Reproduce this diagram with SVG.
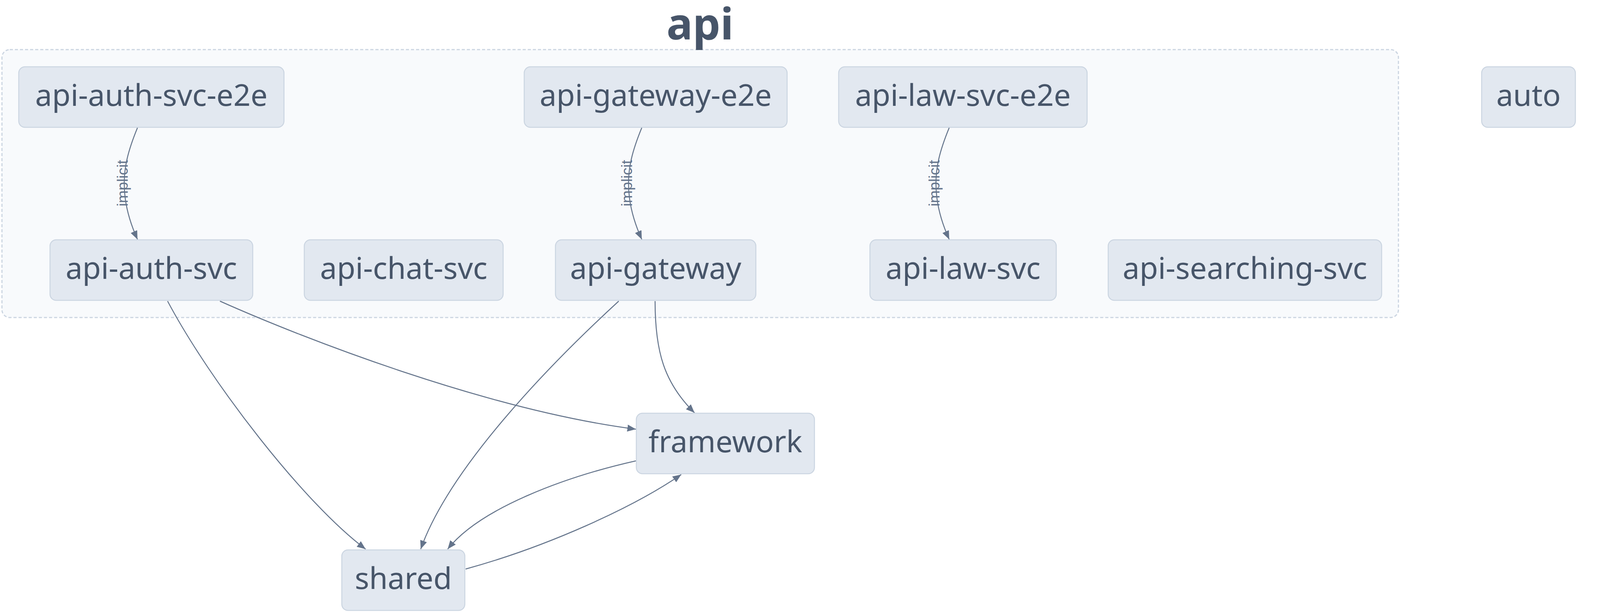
<svg xmlns="http://www.w3.org/2000/svg" width="6052" height="1567" viewBox="0 0 6052 1567">
<defs>
<style>
.cluster{fill:#f8fafc;stroke:#cbd5e1;stroke-width:3;stroke-dasharray:8 5}
.ctitle{font-family:"Noto Sans","Open Sans",sans-serif;font-weight:bold;font-size:112px;fill:#475569;text-anchor:middle}
.node rect{fill:#e2e8f0;stroke:#cbd5e1;stroke-width:2.5}
.node text{font-family:"Noto Sans","Open Sans",sans-serif;font-size:77px;fill:#475569;text-anchor:middle}
.edge{fill:none;stroke:#64748b;stroke-width:2.5}
.elabel{font-family:"Liberation Sans",Arial,sans-serif;font-size:39px;fill:#64748b;text-anchor:middle}
</style>
<marker id="arrow" viewBox="0 0 22 18" refX="22" refY="9" markerWidth="22" markerHeight="18" markerUnits="userSpaceOnUse" orient="auto">
<path d="M0,0 L22,9 L0,18 Z" fill="#64748b"/>
</marker>
</defs>
<rect width="6052" height="1567" fill="#ffffff"/>

<g id="cluster-api">
<rect class="cluster" x="5" y="127" width="3575" height="686" rx="20"/>
<text class="ctitle" x="1792" y="101">api</text>
</g>
<g id="cluster-deploys">
<rect class="cluster" x="5061" y="127" width="266" height="244" rx="20"/>
<text class="ctitle" x="5194" y="101">deploys</text>
</g>

<g id="connectors">
<path class="edge" marker-end="url(#arrow)" d="M352,327 C326,390 318,430 318,470 C318,515 328,560 352,613"/>
<text class="elabel" transform="translate(327,469) rotate(-90)">implicit</text>
<path class="edge" marker-end="url(#arrow)" d="M1643,327 C1617,390 1609,430 1609,470 C1609,515 1619,560 1643,613"/>
<text class="elabel" transform="translate(1618,469) rotate(-90)">implicit</text>
<path class="edge" marker-end="url(#arrow)" d="M2430,327 C2404,390 2396,430 2396,470 C2396,515 2406,560 2430,613"/>
<text class="elabel" transform="translate(2405,469) rotate(-90)">implicit</text>
<path class="edge" marker-end="url(#arrow)" d="M5757,327 C5731,390 5723,430 5723,470 C5723,515 5733,560 5757,613"/>
<text class="elabel" transform="translate(5732,469) rotate(-90)">implicit</text>
<path class="edge" marker-end="url(#arrow)" d="M429,771 C540,980 780,1290 936,1406"/>
<path class="edge" marker-end="url(#arrow)" d="M563,771 C780,868 1250,1050 1628,1099"/>
<path class="edge" marker-end="url(#arrow)" d="M1584,771 C1400,940 1150,1200 1077,1406"/>
<path class="edge" marker-end="url(#arrow)" d="M1677,771 C1677,900 1700,980 1778,1057"/>
<path class="edge" marker-end="url(#arrow)" d="M1628,1180 C1450,1220 1230,1300 1146,1406"/>
<path class="edge" marker-end="url(#arrow)" d="M1192,1457 C1400,1400 1620,1300 1744,1215"/>
</g>

<g id="node-api-auth-svc-e2e" class="node"><rect x="48" y="171" width="679" height="155" rx="16"/><text x="387.5" y="271">api-auth-svc-e2e</text></g>
<g id="node-api-gateway-e2e" class="node"><rect x="1342" y="171" width="673" height="155" rx="16"/><text x="1678.5" y="271">api-gateway-e2e</text></g>
<g id="node-api-law-svc-e2e" class="node"><rect x="2147" y="171" width="636" height="155" rx="16"/><text x="2465" y="271">api-law-svc-e2e</text></g>
<g id="node-api-auth-svc" class="node"><rect x="128" y="614" width="519" height="155" rx="16"/><text x="387.5" y="714">api-auth-svc</text></g>
<g id="node-api-chat-svc" class="node"><rect x="779" y="614" width="509" height="155" rx="16"/><text x="1033.5" y="714">api-chat-svc</text></g>
<g id="node-api-gateway" class="node"><rect x="1422" y="614" width="513" height="155" rx="16"/><text x="1678.5" y="714">api-gateway</text></g>
<g id="node-api-law-svc" class="node"><rect x="2227" y="614" width="477" height="155" rx="16"/><text x="2465.5" y="714">api-law-svc</text></g>
<g id="node-api-searching-svc" class="node"><rect x="2837" y="614" width="700" height="155" rx="16"/><text x="3187" y="714">api-searching-svc</text></g>
<g id="node-framework" class="node"><rect x="1629" y="1058" width="456" height="155" rx="16"/><text x="1857" y="1158">framework</text></g>
<g id="node-shared" class="node"><rect x="875" y="1408" width="315" height="155" rx="16"/><text x="1032.5" y="1508">shared</text></g>
<g id="node-auto" class="node"><rect x="3793" y="171" width="240" height="155" rx="16"/><text x="3913" y="271">auto</text></g>
<g id="node-docs" class="node"><rect x="4166" y="171" width="245" height="155" rx="16"/><text x="4288.5" y="271">docs</text></g>
<g id="node-model" class="node"><rect x="4544" y="171" width="304" height="155" rx="16"/><text x="4696" y="271">model</text></g>
<g id="node-iac" class="node"><rect x="5104" y="171" width="179" height="155" rx="16"/><text x="5193.5" y="271">iac</text></g>
<g id="node-website-e2e" class="node"><rect x="5542" y="171" width="504" height="155" rx="16"/><text x="5794" y="271">website-e2e</text></g>
<g id="node-website" class="node"><rect x="5620" y="614" width="345" height="155" rx="16"/><text x="5792.5" y="714">website</text></g>
</svg>
